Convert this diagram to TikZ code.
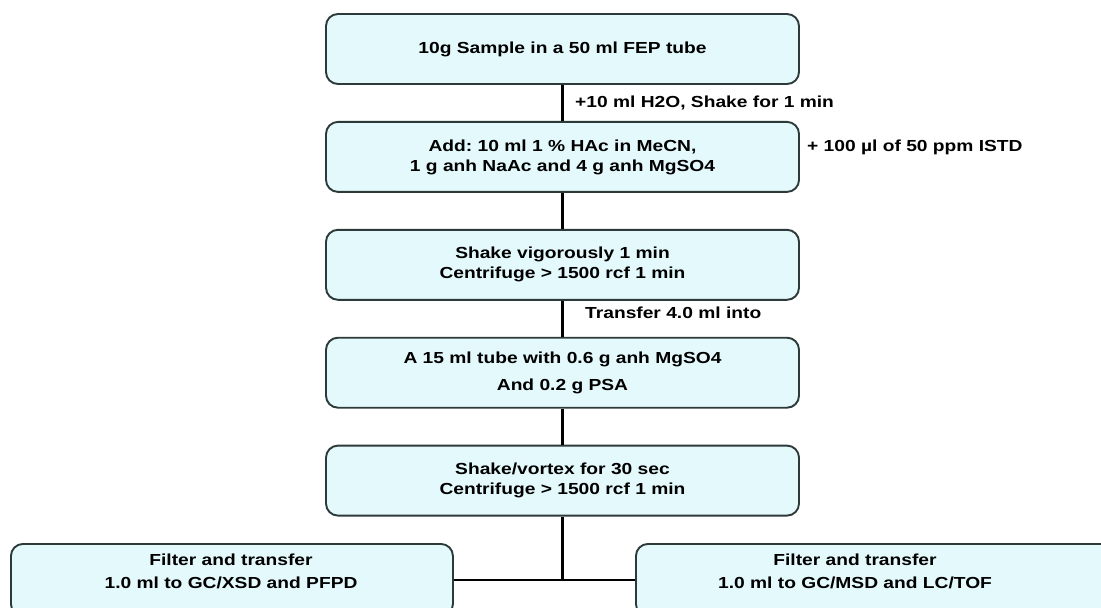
\documentclass[tikz,border=0pt]{standalone}
\usepackage{fontspec}
\setmainfont{Liberation Sans}[FakeStretch=1.2]
\usetikzlibrary{positioning}
\definecolor{boxfill}{RGB}{228,249,252}
\definecolor{boxline}{RGB}{45,58,58}
\frenchspacing

\begin{document}
\begin{tikzpicture}[x=1pt, y=-1pt,
  stepbox/.style={draw=boxline, line width=1.9pt, fill=boxfill, rounded corners=12pt,
    minimum width=473pt, minimum height=70pt, align=center,
    font=\bfseries\fontsize{16}{20}\selectfont},
  boxtext/.style={align=center, inner sep=0pt, font=\bfseries\fontsize{16}{23}\selectfont},
  note/.style={anchor=base west, inner sep=0pt, font=\bfseries\fontsize{16}{20}\selectfont},
  link/.style={line width=2.4pt}]
  \useasboundingbox (0,0) rectangle (1101,608);
  \fill[white] (0,0) rectangle (1101,608);
  \clip (0,0) rectangle (1101,608);

  % main column
  \node[stepbox] (sample) at (562.5,49) {10g Sample in a 50 ml FEP tube};
  \node[stepbox, below=36pt of sample] (extract) {Add: 10 ml 1 \% HAc in MeCN,\\1 g anh NaAc and 4 g anh MgSO4};
  \node[stepbox, below=36pt of extract] (shake) {Shake vigorously 1 min\\Centrifuge > 1500 rcf 1 min};
  \node[stepbox, below=36pt of shake, font=\bfseries\fontsize{16}{27}\selectfont] (cleanup) {A 15 ml tube with 0.6 g anh MgSO4\\And 0.2 g PSA};
  \node[stepbox, below=36pt of cleanup] (vortex) {Shake/vortex for 30 sec\\Centrifuge > 1500 rcf 1 min};

  % final transfers
  \node[stepbox, minimum width=442pt, minimum height=72pt, anchor=north west] (gcx) at (10,543) {};
  \node[stepbox, minimum width=490pt, minimum height=72pt, anchor=north west] (msd) at (635,543) {};
  \node[boxtext] (gcxtext) at (231,571.5) {Filter and transfer\\1.0 ml to GC/XSD and PFPD};
  \node[boxtext] (msdtext) at (855,571.5) {Filter and transfer\\1.0 ml to GC/MSD and LC/TOF};

  \foreach \a/\b in {sample/extract, extract/shake, shake/cleanup, cleanup/vortex}
    \draw[link] (\a) -- (\b);
  \coordinate (split) at (vortex.south |- gcx.east);
  \draw[link] (vortex) -- (split);
  \draw[link] (gcx.east) -- (msd.west);

  % side notes
  \node[note] (water) at (575,107) {+10 ml H2O, Shake for 1 min};
  \node[note] (istd) at (807,151) {+ 100 µl of 50 ppm ISTD};
  \node[note] (transfer) at (585,318) {Transfer 4.0 ml into};
\end{tikzpicture}
\end{document}
